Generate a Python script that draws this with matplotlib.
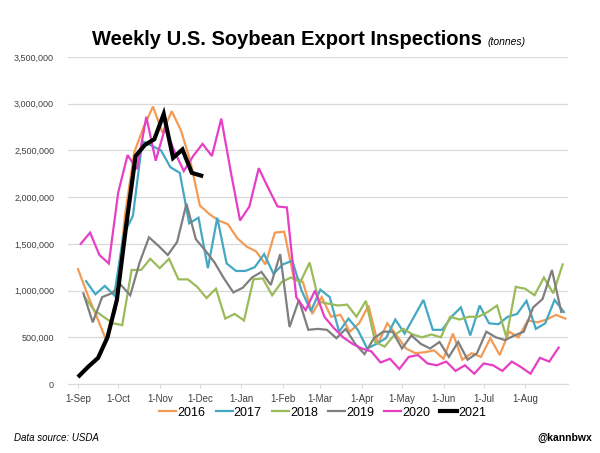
import matplotlib.pyplot as plt
import numpy as np

# weekly export inspections, thousand tonnes, first week ending Thursday in Sep
y2016 = [1230, 960, 720, 470, 800, 1800, 2480, 2750, 2970, 2690, 2920, 2710, 2380,
         1910, 1820, 1750, 1710, 1560, 1470, 1420, 1280, 1620, 1630, 1150, 1090, 750,
         930, 720, 740, 560, 650, 840, 430, 650, 520, 380, 330, 340, 360, 270, 540,
         260, 330, 290, 490, 310, 560, 500, 680, 660, 690, 740, 700]
y2017 = [1100, 960, 1050, 950, 1600, 1800, 2600, 2550, 2500, 2320, 2260, 1720, 1780,
         1240, 1780, 1290, 1210, 1210, 1250, 1390, 1180, 1280, 1320, 1000, 780, 1010,
         930, 560, 700, 580, 380, 430, 490, 690, 540, 720, 900, 580, 580, 720, 820,
         520, 840, 650, 640, 720, 750, 890, 590, 650, 900, 770]
y2018 = [930, 790, 720, 650, 630, 1220, 1220, 1340, 1240, 1340, 1120, 1120, 1040, 920,
         1020, 700, 750, 680, 1120, 1130, 950, 1090, 1140, 1090, 1300, 880, 860, 840,
         850, 720, 890, 450, 400, 520, 590, 530, 500, 530, 500, 720, 690, 720, 720,
         770, 840, 500, 1040, 1020, 950, 1140, 970, 1280]
y2019 = [970, 660, 930, 970, 1060, 950, 1300, 1570, 1480, 1380, 1520, 1930, 1550, 1430,
         1300, 1130, 980, 1030, 1140, 1200, 1060, 1390, 610, 900, 580, 590, 580, 490,
         590, 430, 320, 490, 560, 560, 380, 520, 430, 380, 450, 290, 450, 260, 330,
         560, 500, 470, 520, 560, 820, 910, 1220, 770]
y2020 = [1500, 1620, 1380, 1290, 2050, 2450, 2300, 2860, 2390, 2740, 2490, 2280, 2440,
         2570, 2440, 2840, 2280, 1750, 1900, 2310, 2100, 1900, 1890, 930, 790, 1000,
         720, 600, 500, 430, 380, 350, 230, 270, 160, 290, 310, 220, 200, 240, 140, 200,
         110, 220, 200, 140, 240, 180, 110, 280, 240, 390]
y2021 = [90, 190, 280, 500, 900, 1700, 2440, 2560, 2620, 2890, 2420, 2510, 2260, 2230]

years = ['2016', '2017', '2018', '2019', '2020', '2021']
series = [y2016, y2017, y2018, y2019, y2020, y2021]
start_day = [0, 6, 5, 4, 2, 1]  # days after 1-Sep of first weekly point
colors = ['#F39B55', '#44A8C2', '#9BBB59', '#7F7F7F', '#E63FC6', '#000000']
widths = [1.6, 1.6, 1.6, 1.6, 1.6, 3.0]

tick_days = [0, 30, 61, 91, 122, 153, 181, 212, 242, 273, 303, 334]
tick_labels = ['1-Sep', '1-Oct', '1-Nov', '1-Dec', '1-Jan', '1-Feb', '1-Mar',
               '1-Apr', '1-May', '1-Jun', '1-Jul', '1-Aug']

plt.rcParams['font.family'] = 'Liberation Sans'

fig = plt.figure(figsize=(6, 4.53), dpi=100)
ax = fig.add_axes([68/600, 69/453, 500/600, 327/453])

for yr, vals, d0, c, lw in zip(years, series, start_day, colors, widths):
    x = d0 + 7 * np.arange(len(vals))
    ax.plot(x, np.array(vals) * 1000, color=c, lw=lw, label=yr, solid_joinstyle='miter')

ax.set_xlim(-7.5, 366)
ax.set_ylim(0, 3500000)
ax.set_yticks(np.arange(0, 3500001, 500000))
ax.yaxis.set_major_formatter(plt.FuncFormatter(lambda v, p: f'{int(v):,}'))
ax.set_xticks(tick_days)
ax.set_xticklabels(tick_labels)
ax.grid(axis='y', color='#D9D9D9', lw=0.9)
ax.set_axisbelow(True)
for s in ['top', 'right', 'left']:
    ax.spines[s].set_visible(False)
ax.spines['bottom'].set_color('#D9D9D9')
ax.tick_params(axis='y', length=0, pad=10, labelsize=6.5, colors='#404040')
ax.tick_params(axis='x', length=3, color='#D9D9D9', pad=4, labelsize=7, labelcolor='#404040')

fig.legend(loc='center', bbox_to_anchor=(323/600, 0.089), ncol=6, frameon=False,
           fontsize=9, handlelength=1.36, handletextpad=0.1, columnspacing=0.8)

fig.text(92/600, 1 - 45/453, 'Weekly U.S. Soybean Export Inspections', fontsize=14.5,
         fontweight='bold', ha='left', va='baseline')
fig.text(488/600, 1 - 45/453, '(tonnes)', fontsize=7.5, style='italic', ha='left',
         va='baseline')
fig.text(14/600, 1 - 438/453, 'Data source: USDA', fontsize=7, style='italic',
         va='center')
fig.text(592/600, 1 - 438/453, '@kannbwx', fontsize=7.5, fontweight='bold',
         ha='right', va='center')

fig.savefig('out.png', dpi=100)
